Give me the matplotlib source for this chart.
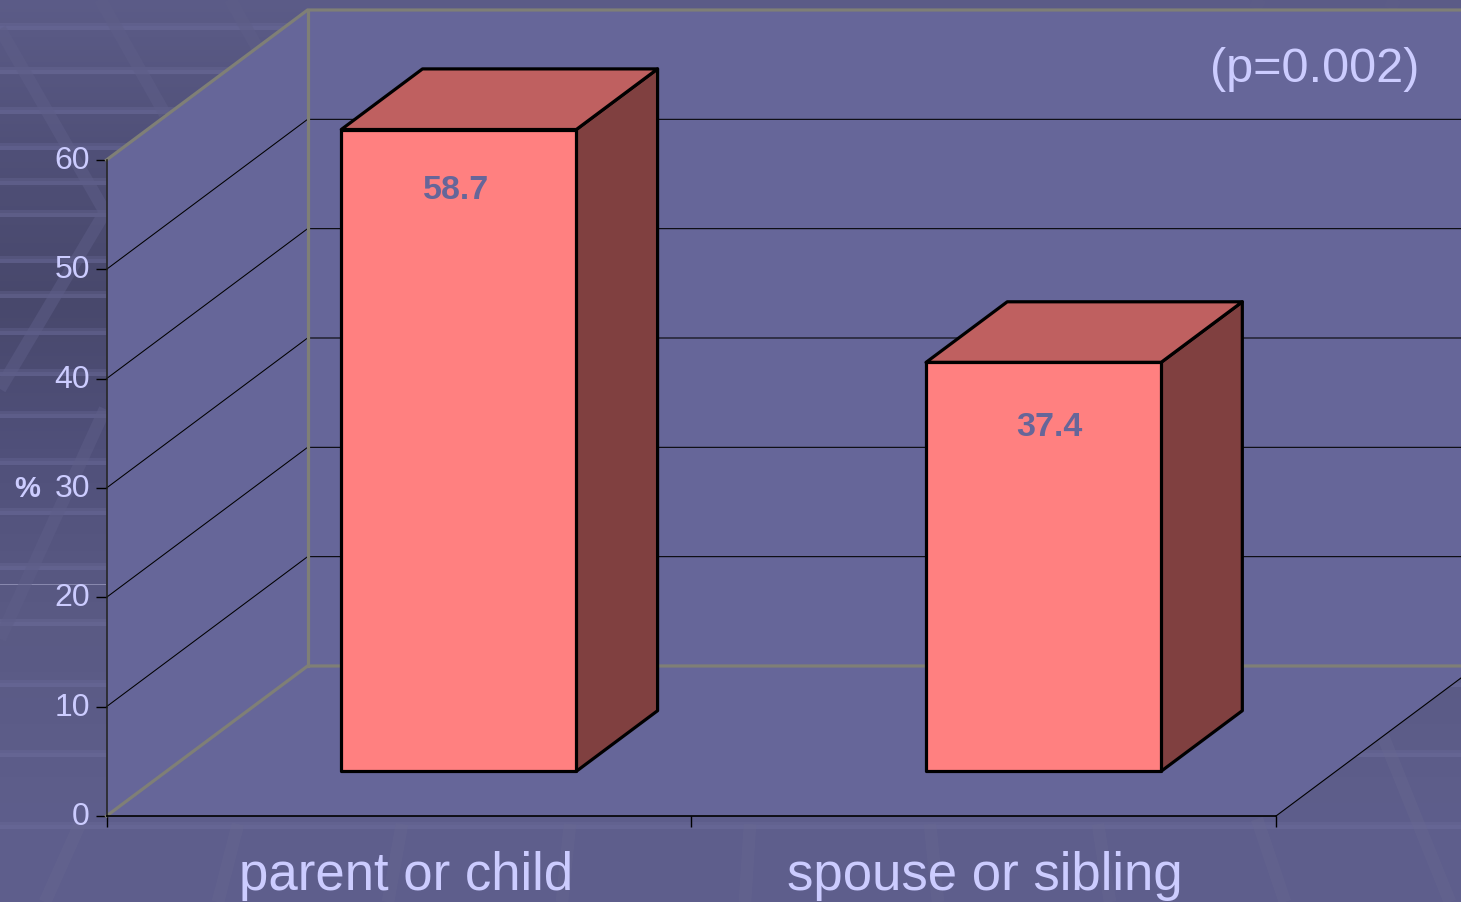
import numpy as np
import matplotlib
matplotlib.use("Agg")
import matplotlib.pyplot as plt
from matplotlib.colors import to_rgb
from matplotlib.patches import Polygon
from matplotlib.transforms import ScaledTranslation

plt.rcParams['font.family'] = ['Liberation Sans', 'DejaVu Sans']

categories = ['parent or child', 'spouse or sibling']
values = [58.7, 37.4]
value_labels = ['58.7', '37.4']
yticks = [0, 10, 20, 30, 40, 50, 60]
p_text = '(p=0.002)'

W, H = 1461, 903
TEXT = '#ccccff'
WALL = '#666699'
EDGE = '#7f7f76'

# chart geometry, everything below is in data units of the front plane
DEPTH_X = 201 / 584.5
DEPTH_Y = 150 / 10.933
BAR_W = 0.402
BAR_Z0, BAR_Z1 = 0.298, 0.702


def proj(x, y, z=0.0):
    return (x + z * DEPTH_X, y + z * DEPTH_Y)


fig = plt.figure(figsize=(W / 100, H / 100), dpi=100)

# slide background, pixel coordinates
bg = fig.add_axes([0, 0, 1, 1])
bg.set_xlim(0, W)
bg.set_ylim(H, 0)
bg.axis('off')

stops = [0, 150, 300, 450, 620, 830, 903]
stop_cols = ['#5c5c88', '#505078', '#48486c', '#50507a', '#5a5a84', '#5e5e8c', '#5e5e8c']
rows = np.arange(H)
rgb = np.array([to_rgb(c) for c in stop_cols])
grad = np.stack([np.interp(rows, stops, rgb[:, i]) for i in range(3)], axis=1)[:, None, :]
bg.imshow(grad, extent=[0, W, H, 0], aspect='auto', zorder=0)

stripes = [28, 72, 112, 148, 183, 215, 261, 296, 333, 374, 416, 463, 513, 568, 624, 685, 755, 827]
for s in stripes:
    bg.axhspan(s - 4, s + 3, color='#7070a0', alpha=0.28, lw=0, zorder=1)
    bg.axhspan(s - 1, s + 3, color='#7070a0', alpha=0.28, lw=0, zorder=1)
bg.plot([0, 105], [585, 585], color='#8a8ab0', lw=0.7, zorder=1)

upper_bands = [
    ([0, 105, 0], [30, 213, 390]),
    ([100, 165], [0, 115]),
    ([230, 258], [0, 50]),
    ([105, 0], [410, 640]),
    ([1260, 1255], [0, 10]),
    ([1395, 1390], [0, 10]),
]
lower_bands = [
    ([80, 45], [825, 903]),
    ([238, 218], [825, 903]),
    ([402, 388], [825, 903]),
    ([570, 562], [825, 903]),
    ([750, 745], [825, 903]),
    ([930, 938], [825, 903]),
    ([1098, 1110], [825, 903]),
    ([1257, 1285], [820, 903]),
    ([1383, 1450], [737, 903]),
]
for bx, by in upper_bands:
    bg.plot(bx, by, color='#5e5e88', alpha=0.5, lw=9, solid_capstyle='butt', zorder=2)
for bx, by in lower_bands:
    bg.plot(bx, by, color='#686890', alpha=0.4, lw=9, solid_capstyle='butt', zorder=2)

# chart axes: exactly the front plane of the 3d box
ax = fig.add_axes([106.5 / W, 1 - 817 / H, (1276 - 106.5) / W, (817 - 161) / H])
ax.set_xlim(0, 2)
ax.set_ylim(0, 60)
ax.patch.set_alpha(0)
for side in ['top', 'right']:
    ax.spines[side].set_visible(False)
ax.spines['left'].set_linewidth(1.1)
ax.spines['left'].set_color('#20201c')
ax.spines['bottom'].set_linewidth(1.2)
ax.spines['left'].set_zorder(6)
ax.spines['bottom'].set_zorder(6)

ax.set_yticks(yticks)
ax.set_xticks([0, 1, 2])
ax.set_xticklabels([])
ax.tick_params(axis='y', length=8, width=1.0, pad=4, labelsize=23, labelcolor=TEXT)
ax.tick_params(axis='x', length=8, width=1.0)
for lab in ax.get_yticklabels():
    lab.set_transform(lab.get_transform() + ScaledTranslation(0, 2.5 / 72, fig.dpi_scale_trans))

# walls and floor
top = yticks[-1]
ax.add_patch(Polygon([proj(0, 0, 0), proj(0, top, 0), proj(0, top, 1), proj(0, 0, 1)],
                     fc=WALL, ec='none', clip_on=False, zorder=1))
ax.add_patch(Polygon([proj(0, 0, 1), proj(0, top, 1), proj(2, top, 1), proj(2, 0, 1)],
                     fc=WALL, ec='none', clip_on=False, zorder=1))
ax.add_patch(Polygon([proj(0, 0, 0), proj(2, 0, 0), proj(2, 0, 1), proj(0, 0, 1)],
                     fc=WALL, ec='none', clip_on=False, zorder=1))

# gridlines run along the side wall and on along the back wall
for v in yticks[1:-1]:
    pts = [proj(0, v, 0), proj(0, v, 1), proj(2, v, 1)]
    ax.plot(*zip(*pts), color='black', lw=0.75, clip_on=False, zorder=2)

# grey box edges
edges = [
    [proj(0, top, 0), proj(0, top, 1), proj(2, top, 1)],
    [proj(0, 0, 0), proj(0, 0, 1), proj(2, 0, 1)],
    [proj(0, 0, 1), proj(0, top, 1)],
]
for e in edges:
    ax.plot(*zip(*e), color=EDGE, lw=2.3, clip_on=False, zorder=3, solid_joinstyle='miter')
ax.plot(*zip(proj(2, 0, 0), proj(2, 0, 1)), color='black', lw=0.8, clip_on=False, zorder=3)

# bars
FRONT, ROOF, SIDE = '#ff8080', '#bf6060', '#804040'
label_dx = [-0.005, 0.01]
label_drop = [5.45, 5.86]
for i, v in enumerate(values):
    c = i + 0.5
    x0, x1 = c - BAR_W / 2, c + BAR_W / 2
    front = [proj(x0, 0, BAR_Z0), proj(x1, 0, BAR_Z0), proj(x1, v, BAR_Z0), proj(x0, v, BAR_Z0)]
    roof = [proj(x0, v, BAR_Z0), proj(x1, v, BAR_Z0), proj(x1, v, BAR_Z1), proj(x0, v, BAR_Z1)]
    side = [proj(x1, 0, BAR_Z0), proj(x1, 0, BAR_Z1), proj(x1, v, BAR_Z1), proj(x1, v, BAR_Z0)]
    for pts, col in [(side, SIDE), (roof, ROOF), (front, FRONT)]:
        ax.add_patch(Polygon(pts, fc=col, ec='black', lw=2.3, joinstyle='round',
                             clip_on=False, zorder=4))
    lx, ly = proj(c + label_dx[i], v - label_drop[i], BAR_Z0)
    ax.text(lx, ly, value_labels[i], color=WALL, fontsize=24.5, fontweight='bold',
            ha='center', va='center', zorder=5)

# text around the plot
cat_x = [0.5115, 1.502]
for cx, name in zip(cat_x, categories):
    ax.text(cx, -6.7, name, color=TEXT, fontsize=38, ha='center', va='baseline', clip_on=False)
ax.text(-0.136, 30.0, '%', color=TEXT, fontsize=21, fontweight='bold', ha='center', va='center')
ax.text(2.067, 68.4, p_text, color=TEXT, fontsize=35, ha='center', va='center', zorder=5)

fig.savefig('out.png', dpi=100)
